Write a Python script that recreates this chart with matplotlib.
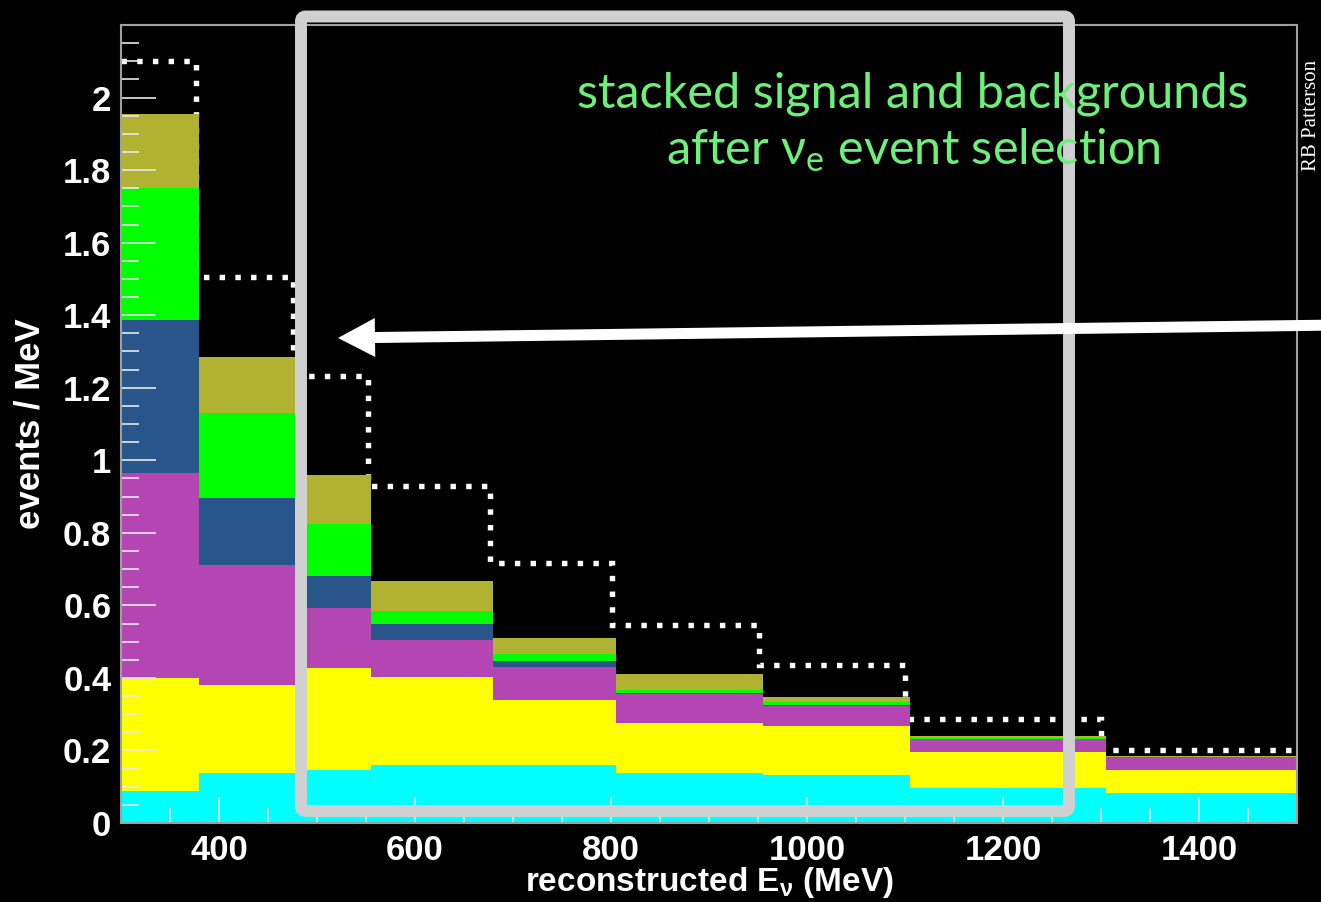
import numpy as np
import matplotlib
matplotlib.use('Agg')
import matplotlib.pyplot as plt
from matplotlib.patches import FancyBboxPatch, FancyArrow
from matplotlib.ticker import MultipleLocator, FormatStrFormatter

plt.rcParams['mathtext.fontset'] = 'custom'
plt.rcParams['mathtext.rm'] = 'Lato'
plt.rcParams['mathtext.sf'] = 'Liberation Sans:bold'

# bin edges (MeV) as seen in the picture
stack_edges = [300, 380, 479, 555, 680, 805, 955, 1105, 1305, 1500]
total_edges = [300, 377, 476, 552, 677, 801, 951, 1100, 1300, 1500]

# stacked components, bottom to top (events / MeV)
cyan_vals    = [0.089, 0.139, 0.146, 0.160, 0.160, 0.139, 0.132, 0.096, 0.083]
yellow_vals  = [0.310, 0.241, 0.282, 0.243, 0.180, 0.136, 0.136, 0.100, 0.063]
magenta_vals = [0.565, 0.331, 0.164, 0.101, 0.090, 0.080, 0.054, 0.035, 0.035]
blue_vals    = [0.424, 0.184, 0.088, 0.044, 0.016, 0.004, 0.003, 0.001, 0.000]
green_vals   = [0.364, 0.234, 0.144, 0.036, 0.021, 0.009, 0.009, 0.002, 0.001]
olive_vals   = [0.204, 0.155, 0.135, 0.083, 0.044, 0.042, 0.012, 0.006, 0.002]
# dotted line: total expectation
total_vals   = [2.102, 1.504, 1.231, 0.928, 0.716, 0.545, 0.435, 0.286, 0.200]

layers = [cyan_vals, yellow_vals, magenta_vals, blue_vals, green_vals, olive_vals]
layer_colors = ['#00ffff', '#ffff00', '#b446b4', '#28568a', '#00ff00', '#b2b232']

W, H = 1321, 902
fig = plt.figure(figsize=(W / 100, H / 100), dpi=100, facecolor='black')
ax = fig.add_axes([121 / W, 1 - 823 / H, (1297 - 121) / W, (823 - 25) / H])
ax.set_facecolor('black')
ax.set_axisbelow(False)

# dotted total under the stack
ax.stairs(total_vals, total_edges, baseline=None, color='white', lw=3.9,
          linestyle=(0, (1, 1.9)), zorder=1)

bottom = np.zeros(len(cyan_vals))
for vals, c in zip(layers, layer_colors):
    top = bottom + np.array(vals)
    ax.stairs(top, stack_edges, baseline=bottom, fill=True, color=c, lw=0, zorder=2)
    bottom = top

ax.set_xlim(300, 1500)
ax.set_ylim(0, 2.2)

for s in ax.spines.values():
    s.set_color('#a0a0a0')
    s.set_linewidth(1.5)
    s.set_zorder(3)

ax.xaxis.set_major_locator(MultipleLocator(200))
ax.xaxis.set_minor_locator(MultipleLocator(50))
ax.set_yticks(np.arange(0, 2.01, 0.2))
ax.yaxis.set_minor_locator(MultipleLocator(0.05))
ax.yaxis.set_major_formatter(FormatStrFormatter('%g'))

ax.tick_params(axis='both', which='both', direction='in', colors='#e8e8e8', width=1.2)
ax.tick_params(axis='y', which='major', length=25, pad=7)
ax.tick_params(axis='y', which='minor', length=13)
ax.tick_params(axis='x', which='major', length=19, pad=8)
ax.tick_params(axis='x', which='minor', length=11)
for lab in ax.get_xticklabels() + ax.get_yticklabels():
    lab.set_family('Liberation Sans')
    lab.set_fontweight('bold')
    lab.set_fontsize(25)
    lab.set_color('white')

# x label placed by hand so it stays inside the figure
fig.text(709 / W, 1 - 891 / H, r'reconstructed E$_{\mathsf{\nu}}$ (MeV)', ha='center',
         va='baseline', family='Liberation Sans', fontweight='bold', fontsize=24, color='white')
ax.set_ylabel('events / MeV', family='Liberation Sans', fontweight='bold',
              fontsize=25, color='white', labelpad=12)

# gray highlight box
box = FancyBboxPatch((3.01, (H - 811) / 100), 7.68, (811 - 16.5) / 100,
                     boxstyle='round,pad=0,rounding_size=0.05',
                     transform=fig.dpi_scale_trans, facecolor='none',
                     edgecolor='#d0d0d0', lw=8.6, zorder=4)
fig.add_artist(box)

# white arrow from the right edge
x0, y0 = 13.4, (H - 325) / 100
x1, y1 = 3.38, (H - 338) / 100
arrow = FancyArrow(x0, y0, x1 - x0, y1 - y0, width=0.11, head_width=0.39,
                   head_length=0.37, length_includes_head=True,
                   transform=fig.dpi_scale_trans, color='white', lw=0, zorder=5)
fig.add_artist(arrow)

txt_color = '#6cf07a'
fig.text(913 / W, 1 - 108 / H, 'stacked signal and backgrounds', ha='center', va='baseline',
         family='Lato', fontsize=35, color=txt_color, zorder=6)
fig.text(913 / W, 1 - 165 / H, r'after $\mathrm{\nu_{e}}$ event selection', ha='center',
         va='baseline', family='Lato', fontsize=35, color=txt_color, zorder=6)

fig.text(1312 / W, 1 - 115 / H, 'RB Patterson', rotation=90, ha='center', va='center',
         family='Liberation Serif', fontsize=15, color='white')

fig.savefig('out.png', dpi=100, facecolor='black')
